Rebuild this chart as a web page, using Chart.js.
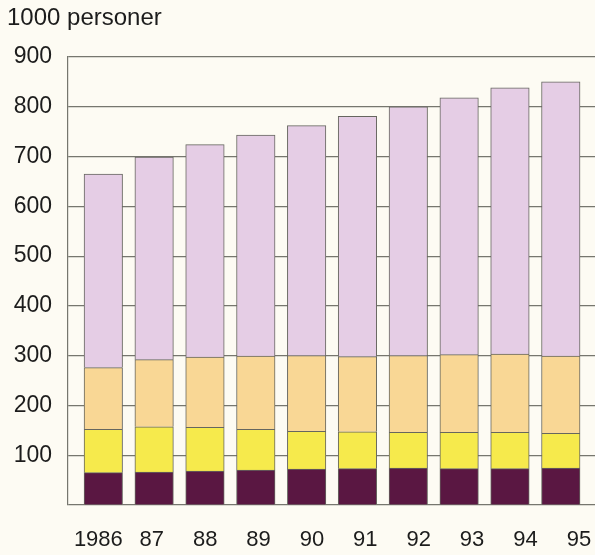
<!DOCTYPE html>
<html>
<head>
<meta charset="utf-8">
<script src="https://cdn.jsdelivr.net/npm/chart.js@4/dist/chart.umd.min.js"></script>
<style>
  html, body { margin: 0; padding: 0; background: #fdfbf3; }
  #wrap { width: 595px; height: 555px; }
</style>
</head>
<body>
<div id="wrap"><canvas id="c" width="595" height="555"></canvas></div>
<script>
// Data (1000 persons)
const years = ['1986', '87', '88', '89', '90', '91', '92', '93', '94', '95'];
const seriesDark = [65, 66, 68, 70, 72, 73, 74, 73, 73, 74];
const seriesYellow = [87, 91, 88, 82, 76, 74, 72, 73, 73, 70];
const seriesOrange = [124, 135, 141, 147, 152, 151, 154, 156, 157, 155];
const seriesLavender = [389, 407, 427, 444, 462, 483, 500, 516, 535, 551];
const yTicks = [100, 200, 300, 400, 500, 600, 700, 800, 900];
const unitTitle = '1000 personer';

const toPoints = arr => arr.map((v, i) => ({ x: i, y: v }));
const barBorder = '#66665f';
const gridColor = '#76766e';
const textColor = '#1c1c1c';

function ds(data, color) {
  return {
    data: toPoints(data),
    backgroundColor: color,
    borderColor: barBorder,
    borderWidth: 1,
    borderSkipped: 'start',
    barThickness: 38.5,
    xAxisID: 'x',
    yAxisID: 'y'
  };
}

new Chart(document.getElementById('c'), {
  type: 'bar',
  data: {
    datasets: [
      ds(seriesDark, '#5a1742'),
      ds(seriesYellow, '#f6ea4c'),
      ds(seriesOrange, '#f9d795'),
      ds(seriesLavender, '#e5cde5')
    ]
  },
  options: {
    responsive: false,
    animation: false,
    layout: { padding: { left: 7, right: 0, top: 0, bottom: 0 } },
    plugins: {
      legend: { display: false },
      tooltip: { enabled: false },
      title: {
        display: true,
        text: unitTitle,
        align: 'start',
        color: textColor,
        font: { family: 'Liberation Sans', size: 24, weight: 'normal' },
        padding: { top: 4, bottom: 24.2 }
      }
    },
    scales: {
      x: {
        type: 'linear',
        display: false,
        stacked: true,
        offset: false,
        grid: { offset: false },
        min: -0.6945,
        max: 9.673
      },
      x2: {
        type: 'linear',
        position: 'bottom',
        offset: false,
        min: -0.5685,
        max: 9.302,
        grid: { display: false, drawTicks: false, offset: false },
        border: { display: false },
        afterBuildTicks: s => { s.ticks = years.map((_, i) => ({ value: i })); },
        afterFit: s => { s.height = 50; s.paddingLeft = 0; s.paddingRight = 0; },
        ticks: {
          autoSkip: false,
          maxRotation: 0,
          padding: 22,
          color: textColor,
          font: { family: 'Liberation Sans', size: 22 },
          callback: v => years[v] !== undefined ? years[v] : ''
        }
      },
      y: {
        stacked: true,
        min: 0,
        max: 900,
        afterBuildTicks: s => { s.ticks = [0].concat(yTicks).map(v => ({ value: v })); },
        afterFit: s => { s.width = 61; },
        grid: { color: gridColor, lineWidth: 1.2, drawTicks: false },
        border: { display: true, color: gridColor, width: 1.2 },
        ticks: {
          padding: 16,
          color: textColor,
          font: { family: 'Liberation Sans', size: 23 },
          callback: v => (v === 0 ? '' : String(v))
        }
      }
    }
  }
});
</script>
</body>
</html>
